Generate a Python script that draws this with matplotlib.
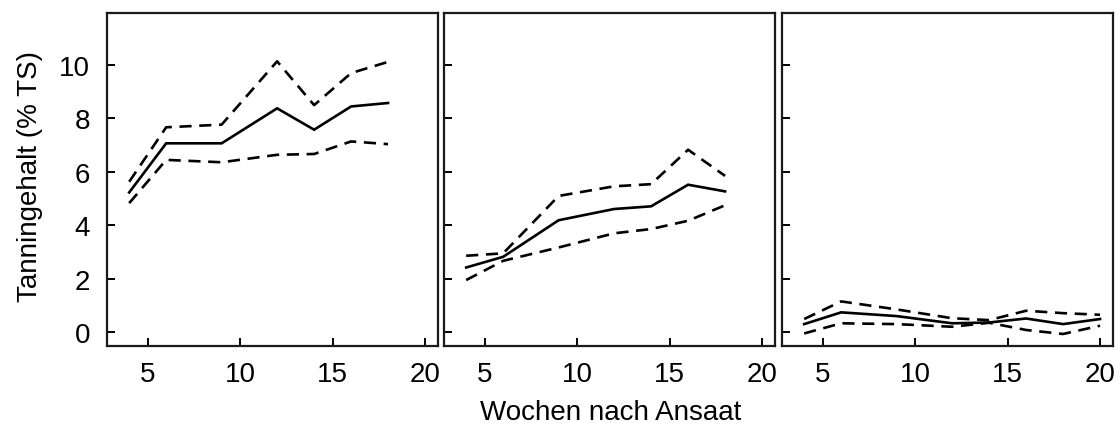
import matplotlib
matplotlib.use("Agg")
import matplotlib.pyplot as plt
from matplotlib.ticker import FixedLocator

plt.rcParams['font.family'] = ['Liberation Sans', 'DejaVu Sans']

# Weeks after sowing for each panel
weeks_a = [4, 6, 9, 12, 14, 16, 18]
weeks_b = [4, 6, 9, 12, 14, 16, 18]
weeks_c = [4, 6, 9, 12, 14, 16, 18, 20]

# Tannin content (% dry matter): mean and band limits
mean_a = [5.23, 7.07, 7.07, 8.38, 7.58, 8.45, 8.58]
upper_a = [5.63, 7.67, 7.77, 10.14, 8.50, 9.70, 10.12]
lower_a = [4.83, 6.45, 6.36, 6.64, 6.67, 7.14, 7.04]

mean_b = [2.42, 2.82, 4.19, 4.61, 4.71, 5.52, 5.27]
upper_b = [2.86, 2.95, 5.10, 5.46, 5.54, 6.83, 5.85]
lower_b = [1.95, 2.67, 3.17, 3.70, 3.86, 4.17, 4.75]

mean_c = [0.30, 0.74, 0.60, 0.33, 0.36, 0.51, 0.30, 0.49]
upper_c = [0.49, 1.15, 0.85, 0.52, 0.45, 0.80, 0.71, 0.65]
lower_c = [-0.05, 0.33, 0.30, 0.20, 0.35, 0.08, -0.07, 0.24]

x_ticks = [5, 10, 15, 20]
y_ticks = [0, 2, 4, 6, 8, 10]

panels = [
    (weeks_a, mean_a, upper_a, lower_a),
    (weeks_b, mean_b, upper_b, lower_b),
    (weeks_c, mean_c, upper_c, lower_c),
]

W, H = 1120, 427
fig = plt.figure(figsize=(W / 100, H / 100), dpi=100)

lefts = [107, 444, 782]
pw = 331
top, bottom = 14, 347
fs = 20

for i, (left, (wk, m, up, lo)) in enumerate(zip(lefts, panels)):
    ax = fig.add_axes([left / W, (H - bottom) / H, pw / W, (bottom - top) / H])
    ax.plot(wk, m, color='black', lw=1.9, solid_joinstyle='miter')
    ax.plot(wk, up, color='black', lw=1.9, dashes=(4.6, 2.9))
    ax.plot(wk, lo, color='black', lw=1.9, dashes=(4.6, 2.9))
    ax.set_xlim(2.8, 20.7)
    ax.set_ylim(-0.52, 11.95)
    ax.xaxis.set_major_locator(FixedLocator(x_ticks))
    ax.yaxis.set_major_locator(FixedLocator(y_ticks))
    ax.tick_params(direction='in', length=6, width=1.4, labelsize=fs, colors='black')
    ax.tick_params(axis='x', pad=11)
    ax.tick_params(axis='y', pad=12)
    for sp in ax.spines.values():
        sp.set_linewidth(1.6)
        sp.set_color('#1a1a1a')
    if i > 0:
        ax.set_yticklabels([])

fig.text(611 / W, 1 - 413 / H, 'Wochen nach Ansaat', ha='center', va='center', fontsize=fs)
fig.text(30 / W, 1 - 177 / H, 'Tanningehalt (% TS)', ha='center', va='center',
         rotation=90, fontsize=fs)

fig.savefig('out.png', dpi=100)
